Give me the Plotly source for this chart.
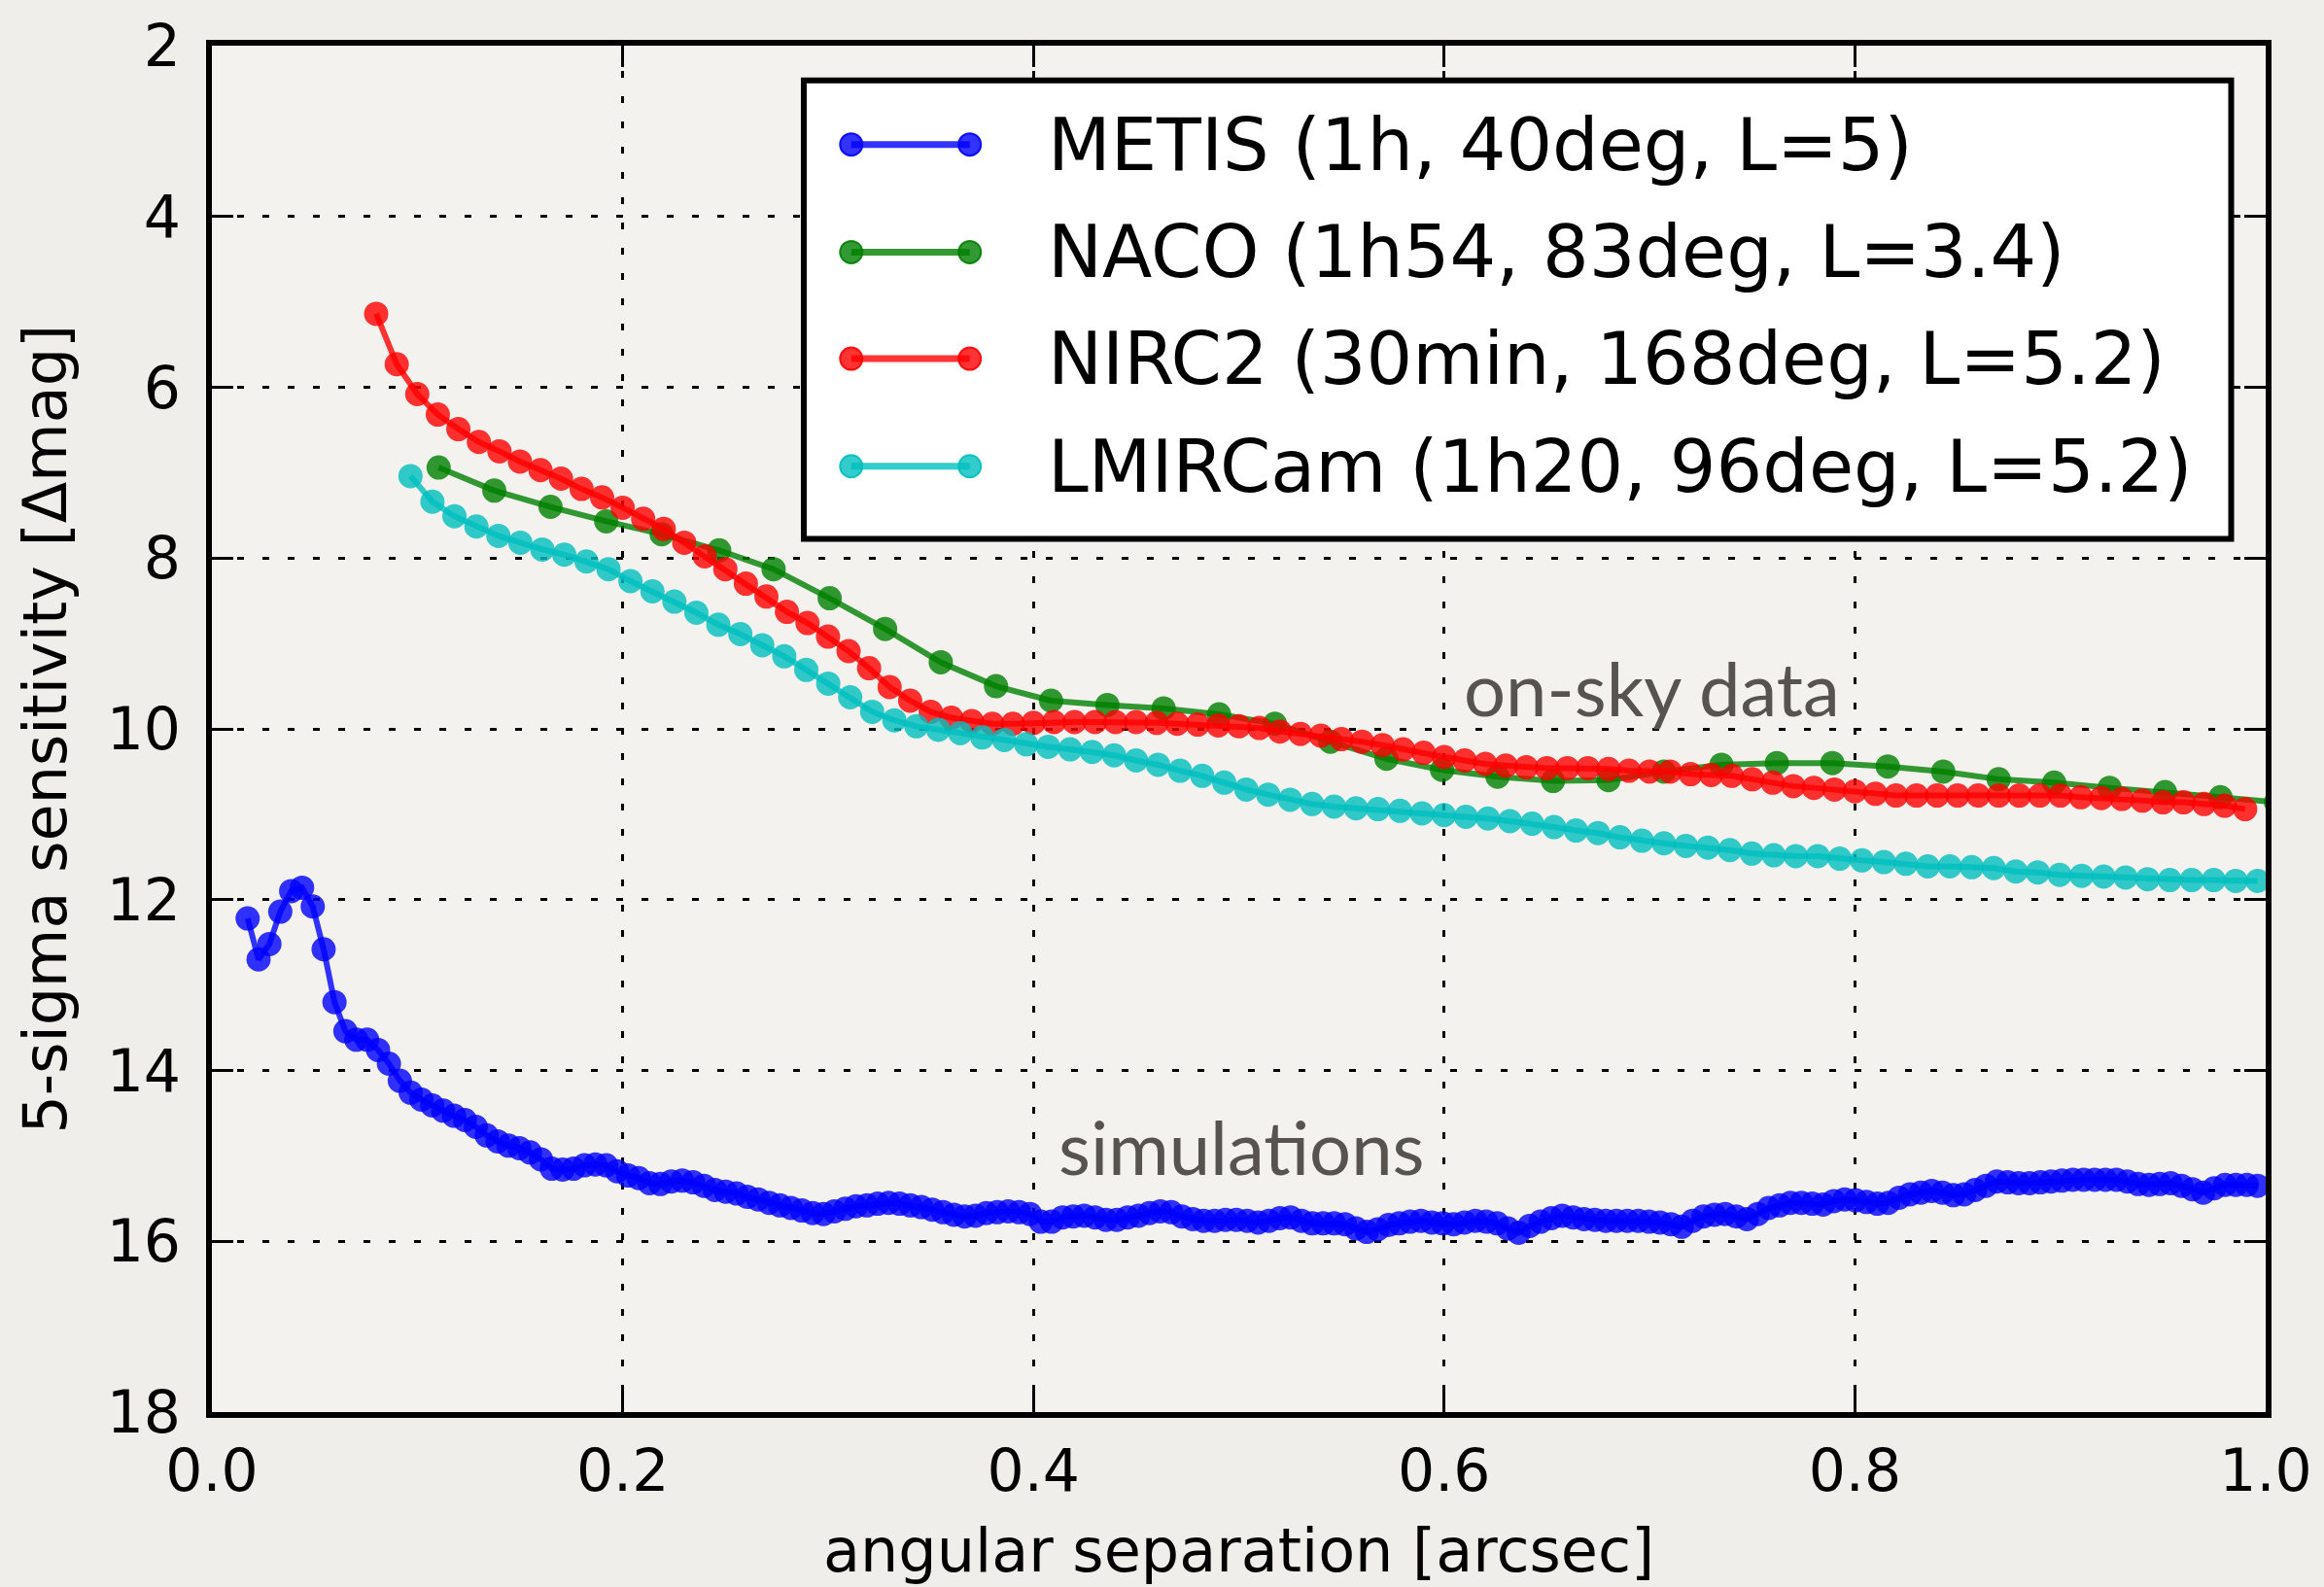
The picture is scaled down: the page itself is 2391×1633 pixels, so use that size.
import plotly.graph_objects as go

# ---------------- data ----------------
series_names = [
    "METIS (1h, 40deg, L=5)",
    "NACO (1h54, 83deg, L=3.4)",
    "NIRC2 (30min, 168deg, L=5.2)",
    "LMIRCam (1h20, 96deg, L=5.2)",
]

metis_sep = [
    0.0174, 0.0227, 0.0280, 0.0333, 0.0386, 0.0439, 0.0491, 0.0544, 0.0597, 0.0650,
    0.0703, 0.0756, 0.0809, 0.0862, 0.0915, 0.0968, 0.1020, 0.1073, 0.1126, 0.1179,
    0.1232, 0.1285, 0.1338, 0.1391, 0.1444, 0.1497, 0.1549, 0.1602, 0.1655, 0.1708,
    0.1761, 0.1814, 0.1867, 0.1920, 0.1973, 0.2026, 0.2078, 0.2131, 0.2184, 0.2237,
    0.2290, 0.2343, 0.2396, 0.2449, 0.2502, 0.2555, 0.2607, 0.2660, 0.2713, 0.2766,
    0.2819, 0.2872, 0.2925, 0.2978, 0.3031, 0.3084, 0.3136, 0.3189, 0.3242, 0.3295,
    0.3348, 0.3401, 0.3454, 0.3507, 0.3560, 0.3613, 0.3665, 0.3718, 0.3771, 0.3824,
    0.3877, 0.3930, 0.3983, 0.4036, 0.4089, 0.4142, 0.4194, 0.4247, 0.4300, 0.4353,
    0.4406, 0.4459, 0.4512, 0.4565, 0.4618, 0.4671, 0.4723, 0.4776, 0.4829, 0.4882,
    0.4935, 0.4988, 0.5041, 0.5094, 0.5147, 0.5200, 0.5252, 0.5305, 0.5358, 0.5411,
    0.5464, 0.5517, 0.5570, 0.5623, 0.5676, 0.5729, 0.5781, 0.5834, 0.5887, 0.5940,
    0.5993, 0.6046, 0.6099, 0.6152, 0.6205, 0.6258, 0.6310, 0.6363, 0.6416, 0.6469,
    0.6522, 0.6575, 0.6628, 0.6681, 0.6734, 0.6787, 0.6839, 0.6892, 0.6945, 0.6998,
    0.7051, 0.7104, 0.7157, 0.7210, 0.7263, 0.7316, 0.7368, 0.7421, 0.7474, 0.7527,
    0.7580, 0.7633, 0.7686, 0.7739, 0.7792, 0.7845, 0.7897, 0.7950, 0.8003, 0.8056,
    0.8109, 0.8162, 0.8215, 0.8268, 0.8321, 0.8374, 0.8426, 0.8479, 0.8532, 0.8585,
    0.8638, 0.8691, 0.8744, 0.8797, 0.8850, 0.8903, 0.8955, 0.9008, 0.9061, 0.9114,
    0.9167, 0.9220, 0.9273, 0.9326, 0.9379, 0.9432, 0.9484, 0.9537, 0.9590, 0.9643,
    0.9696, 0.9749, 0.9802, 0.9855, 0.9908, 0.9961,
]
metis_mag = [
    12.22, 12.70, 12.52, 12.14, 11.90, 11.86, 12.08, 12.58, 13.20, 13.54,
    13.64, 13.64, 13.76, 13.92, 14.12, 14.26, 14.34, 14.41, 14.47, 14.53,
    14.58, 14.66, 14.76, 14.83, 14.88, 14.91, 14.96, 15.04, 15.15, 15.16,
    15.15, 15.11, 15.10, 15.11, 15.18, 15.23, 15.26, 15.32, 15.33, 15.30,
    15.29, 15.31, 15.35, 15.40, 15.42, 15.44, 15.48, 15.51, 15.55, 15.58,
    15.61, 15.64, 15.67, 15.68, 15.65, 15.62, 15.59, 15.58, 15.56, 15.55,
    15.56, 15.58, 15.60, 15.63, 15.66, 15.69, 15.71, 15.70, 15.67, 15.66,
    15.65, 15.66, 15.68, 15.77, 15.77, 15.72, 15.71, 15.70, 15.72, 15.75,
    15.75, 15.72, 15.70, 15.67, 15.65, 15.66, 15.71, 15.74, 15.76, 15.76,
    15.75, 15.75, 15.76, 15.78, 15.76, 15.73, 15.72, 15.76, 15.79, 15.79,
    15.79, 15.80, 15.85, 15.89, 15.86, 15.81, 15.79, 15.77, 15.76, 15.78,
    15.79, 15.80, 15.78, 15.76, 15.77, 15.79, 15.85, 15.90, 15.82, 15.77,
    15.73, 15.70, 15.72, 15.74, 15.75, 15.76, 15.76, 15.76, 15.76, 15.77,
    15.78, 15.80, 15.83, 15.76, 15.71, 15.69, 15.68, 15.71, 15.74, 15.68,
    15.61, 15.58, 15.55, 15.55, 15.56, 15.57, 15.53, 15.51, 15.52, 15.54,
    15.56, 15.55, 15.49, 15.45, 15.43, 15.41, 15.43, 15.46, 15.45, 15.40,
    15.35, 15.30, 15.31, 15.32, 15.32, 15.31, 15.30, 15.29, 15.28, 15.28,
    15.28, 15.28, 15.28, 15.30, 15.33, 15.34, 15.33, 15.32, 15.35, 15.39,
    15.43, 15.38, 15.34, 15.34, 15.34, 15.35,
]

naco_sep = [
    0.1104, 0.1375, 0.1649, 0.1920, 0.2190, 0.2470, 0.2735, 0.3008, 0.3278, 0.3549,
    0.3818, 0.4086, 0.4360, 0.4634, 0.4904, 0.5176, 0.5446, 0.5719, 0.5990, 0.6260,
    0.6530, 0.6800, 0.7070, 0.7350, 0.7620, 0.7890, 0.8160, 0.8430, 0.8700, 0.8970,
    0.9240, 0.9510, 0.9780, 1.0050,
]
naco_mag = [
    6.94, 7.21, 7.40, 7.57, 7.72, 7.91, 8.13, 8.47, 8.83, 9.22,
    9.50, 9.67, 9.72, 9.76, 9.83, 9.94, 10.15, 10.35, 10.48, 10.56,
    10.61, 10.60, 10.50, 10.42, 10.40, 10.40, 10.44, 10.50, 10.59, 10.63,
    10.69, 10.74, 10.80, 10.86,
]

nirc2_sep = [
    0.08, 0.09, 0.10, 0.11, 0.12, 0.13, 0.14, 0.15, 0.16, 0.17,
    0.18, 0.19, 0.20, 0.21, 0.22, 0.23, 0.24, 0.25, 0.26, 0.27,
    0.28, 0.29, 0.30, 0.31, 0.32, 0.33, 0.34, 0.35, 0.36, 0.37,
    0.38, 0.39, 0.40, 0.41, 0.42, 0.43, 0.44, 0.45, 0.46, 0.47,
    0.48, 0.49, 0.50, 0.51, 0.52, 0.53, 0.54, 0.55, 0.56, 0.57,
    0.58, 0.59, 0.60, 0.61, 0.62, 0.63, 0.64, 0.65, 0.66, 0.67,
    0.68, 0.69, 0.70, 0.71, 0.72, 0.73, 0.74, 0.75, 0.76, 0.77,
    0.78, 0.79, 0.80, 0.81, 0.82, 0.83, 0.84, 0.85, 0.86, 0.87,
    0.88, 0.89, 0.90, 0.91, 0.92, 0.93, 0.94, 0.95, 0.96, 0.97,
    0.98, 0.99,
]
nirc2_mag = [
    5.14, 5.73, 6.08, 6.32, 6.49, 6.64, 6.75, 6.87, 6.97, 7.07,
    7.19, 7.29, 7.41, 7.54, 7.66, 7.82, 7.98, 8.13, 8.30, 8.45,
    8.63, 8.76, 8.92, 9.09, 9.29, 9.51, 9.67, 9.80, 9.87, 9.91,
    9.94, 9.94, 9.93, 9.92, 9.92, 9.92, 9.92, 9.92, 9.93, 9.94,
    9.95, 9.96, 9.97, 9.99, 10.03, 10.06, 10.08, 10.12, 10.15, 10.19,
    10.24, 10.28, 10.33, 10.37, 10.41, 10.43, 10.45, 10.46, 10.46, 10.46,
    10.47, 10.49, 10.50, 10.50, 10.53, 10.54, 10.55, 10.59, 10.63, 10.67,
    10.69, 10.71, 10.73, 10.76, 10.78, 10.78, 10.78, 10.78, 10.78, 10.78,
    10.78, 10.78, 10.78, 10.80, 10.81, 10.82, 10.84, 10.86, 10.86, 10.88,
    10.90, 10.94,
]

lmircam_sep = [
    0.0967, 0.1074, 0.1181, 0.1288, 0.1395, 0.1502, 0.1609, 0.1716, 0.1824, 0.1931,
    0.2038, 0.2145, 0.2252, 0.2359, 0.2466, 0.2573, 0.2680, 0.2787, 0.2894, 0.3001,
    0.3108, 0.3215, 0.3323, 0.3430, 0.3537, 0.3644, 0.3751, 0.3858, 0.3965, 0.4072,
    0.4179, 0.4286, 0.4393, 0.4500, 0.4607, 0.4714, 0.4822, 0.4929, 0.5036, 0.5143,
    0.5250, 0.5357, 0.5464, 0.5571, 0.5678, 0.5785, 0.5892, 0.5999, 0.6106, 0.6213,
    0.6320, 0.6428, 0.6535, 0.6642, 0.6749, 0.6856, 0.6963, 0.7070, 0.7177, 0.7284,
    0.7391, 0.7498, 0.7605, 0.7712, 0.7819, 0.7926, 0.8034, 0.8141, 0.8248, 0.8355,
    0.8462, 0.8569, 0.8676, 0.8783, 0.8890, 0.8997, 0.9104, 0.9211, 0.9318, 0.9425,
    0.9533, 0.9640, 0.9747, 0.9854, 0.9961,
]
lmircam_mag = [
    7.04, 7.34, 7.51, 7.63, 7.74, 7.82, 7.90, 7.96, 8.04, 8.13,
    8.27, 8.39, 8.51, 8.64, 8.78, 8.89, 9.02, 9.15, 9.31, 9.47,
    9.63, 9.80, 9.90, 9.97, 10.01, 10.05, 10.10, 10.13, 10.18, 10.21,
    10.24, 10.27, 10.31, 10.37, 10.42, 10.49, 10.55, 10.63, 10.71, 10.77,
    10.83, 10.88, 10.91, 10.93, 10.94, 10.96, 10.99, 11.01, 11.03, 11.05,
    11.08, 11.11, 11.15, 11.19, 11.22, 11.27, 11.31, 11.34, 11.37, 11.39,
    11.42, 11.46, 11.48, 11.49, 11.49, 11.52, 11.54, 11.56, 11.58, 11.61,
    11.61, 11.62, 11.63, 11.67, 11.68, 11.71, 11.72, 11.73, 11.74, 11.76,
    11.77, 11.77, 11.77, 11.78, 11.78,
]

x_ticks = [0.0, 0.2, 0.4, 0.6, 0.8, 1.0]
y_ticks = [2, 4, 6, 8, 10, 12, 14, 16, 18]
labels_text = ["on-sky data", "simulations"]
labels_x = [0.701, 0.501]
labels_y = [9.52, 14.89]

# ---------------- styling ----------------
colors = ["0,0,255", "0,128,0", "255,0,0", "0,191,191"]
all_x = [metis_sep, naco_sep, nirc2_sep, lmircam_sep]
all_y = [metis_mag, naco_mag, nirc2_mag, lmircam_mag]
MSIZE = 23

fig = go.Figure()
for name, xs, ys, c in zip(series_names, all_x, all_y, colors):
    fig.add_trace(go.Scatter(
        x=xs, y=ys, mode="lines+markers", name=name, showlegend=False,
        line=dict(color=f"rgba({c},0.8)", width=6),
        marker=dict(size=MSIZE, color=f"rgb({c})", opacity=0.8,
                    line=dict(color=f"rgb({c})", width=2)),
    ))

for t, x, y in zip(labels_text, labels_x, labels_y):
    fig.add_annotation(x=x, y=y, xref="x", yref="y", text=t, showarrow=False,
                       font=dict(family="Lato", size=76, color="#57534e"),
                       xanchor="center", yanchor="middle")

# axis titles as annotations for exact placement
fig.add_annotation(x=0.5, y=-0.101, xref="paper", yref="paper",
                   text="angular separation [arcsec]", showarrow=False,
                   font=dict(family="DejaVu Sans", size=62, color="black"),
                   xanchor="center", yanchor="middle")
fig.add_annotation(x=-0.0816, y=0.5, xref="paper", yref="paper",
                   text="5-sigma sensitivity [Δmag]", showarrow=False, textangle=-90,
                   font=dict(family="DejaVu Sans", size=62, color="black"),
                   xanchor="center", yanchor="middle")

# ---------------- legend box (matplotlib style: line with two markers) ----------------
leg_box = dict(x0=0.2882, x1=0.9832, y0=0.639, y1=0.9745)
leg_rows = [0.9277, 0.8489, 0.7709, 0.6922]
leg_line_x = (0.3113, 0.3690)
leg_text_x = 0.4059

fig.add_shape(type="rect", xref="paper", yref="paper",
              x0=leg_box["x0"], x1=leg_box["x1"], y0=leg_box["y0"], y1=leg_box["y1"],
              fillcolor="white", line=dict(color="black", width=6), layer="above")
for name, c, ry in zip(series_names, colors, leg_rows):
    fig.add_shape(type="line", xref="paper", yref="paper",
                  x0=leg_line_x[0], x1=leg_line_x[1], y0=ry, y1=ry,
                  line=dict(color=f"rgba({c},0.8)", width=7), layer="above")
    for lx in leg_line_x:
        fig.add_shape(type="circle", xref="paper", yref="paper",
                      xsizemode="pixel", ysizemode="pixel", xanchor=lx, yanchor=ry,
                      x0=-MSIZE / 2, x1=MSIZE / 2, y0=-MSIZE / 2, y1=MSIZE / 2,
                      fillcolor=f"rgba({c},0.8)",
                      line=dict(color=f"rgba({c},0.9)", width=2), layer="above")
    fig.add_annotation(x=leg_text_x, y=ry, xref="paper", yref="paper",
                       text=name, showarrow=False, xanchor="left", yanchor="middle",
                       font=dict(family="DejaVu Sans", size=75, color="black"))

axis_common = dict(
    showline=True, linecolor="black", linewidth=6, mirror="allticks",
    ticks="inside", ticklen=22, tickwidth=3, tickcolor="black",
    showgrid=True, gridcolor="black", gridwidth=3, griddash="7px,19px",
    zeroline=False,
    tickfont=dict(family="DejaVu Sans", size=60, color="black"),
)
fig.update_xaxes(range=[0, 1], tickvals=x_ticks,
                 ticktext=[f"{v:.1f}" for v in x_ticks],
                 ticklabelstandoff=3, **axis_common)
fig.update_yaxes(range=[18, 2], tickvals=y_ticks,
                 ticktext=[str(v) for v in y_ticks],
                 ticklabelstandoff=14, **axis_common)

fig.update_layout(
    width=2391, height=1633,
    margin=dict(l=218, r=58, t=43, b=180),
    paper_bgcolor="#efeeea", plot_bgcolor="#f3f2ee",
    font=dict(family="DejaVu Sans", color="black"),
    showlegend=False,
)

fig.write_html("out.html")
